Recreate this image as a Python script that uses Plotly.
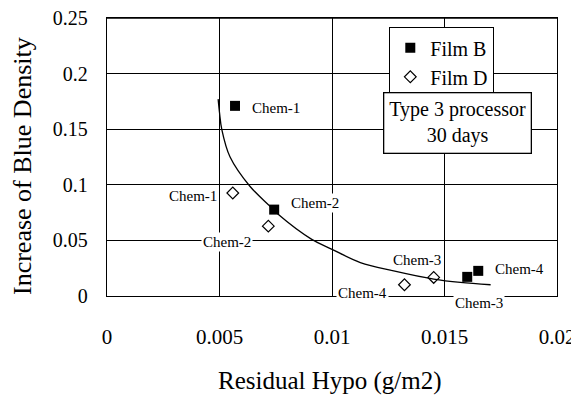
import plotly.graph_objects as go

# Data
chems = ["Chem-1", "Chem-2", "Chem-3", "Chem-4"]
film_b_x = [0.00569, 0.00743, 0.01601, 0.01650]
film_b_y = [0.171, 0.0777, 0.0172, 0.0226]
film_d_x = [0.00559, 0.00717, 0.01452, 0.01322]
film_d_y = [0.0926, 0.0628, 0.0167, 0.0101]

# Trend curve
curve_x = [0.00494, 0.00500, 0.00510, 0.00547, 0.00636, 0.00725, 0.00762,
           0.00910, 0.01000, 0.01126, 0.01274, 0.01452, 0.01571, 0.01705]
curve_y = [0.177, 0.165, 0.150, 0.125, 0.0985, 0.0806, 0.0732,
           0.0509, 0.0420, 0.0301, 0.0226, 0.0152, 0.0122, 0.0101]

x_ticks = [0, 0.005, 0.01, 0.015, 0.02]
y_ticks = [0, 0.05, 0.1, 0.15, 0.2, 0.25]

FONT = "Liberation Serif"

fig = go.Figure()
fig.add_trace(go.Scatter(x=curve_x, y=curve_y, mode="lines", line=dict(color="black", width=1.3, shape="spline", smoothing=1.0),
                         showlegend=False, hoverinfo="skip"))
fig.add_trace(go.Scatter(x=film_b_x, y=film_b_y, mode="markers", name="Film B",
                         marker=dict(symbol="square", size=10, color="black")))
fig.add_trace(go.Scatter(x=film_d_x, y=film_d_y, mode="markers", name="Film D",
                         marker=dict(symbol="diamond-open", size=9, color="black", line=dict(width=1.2))))

# label offsets (pixels) relative to each point
b_off = [(41, -2), (41, 7), (12, -26), (41, 2)]
d_off = [(-40, -3), (-41, -16), (-17, 17), (-42, -8)]

ann = []
for i, c in enumerate(chems):
    ann.append(dict(x=film_b_x[i], y=film_b_y[i], text=c, showarrow=False,
                    xshift=b_off[i][0], yshift=b_off[i][1], bgcolor="white", borderpad=1,
                    font=dict(family=FONT, size=15, color="black")))
    ann.append(dict(x=film_d_x[i], y=film_d_y[i], text=c, showarrow=False,
                    xshift=d_off[i][0], yshift=d_off[i][1], bgcolor="white", borderpad=1,
                    font=dict(family=FONT, size=15, color="black")))

ann.append(dict(xref="paper", yref="paper", x=(457 - 107) / 450, y=(295 - 121.5) / 278,
                text="Type 3 processor<br>30 days", showarrow=False, align="center",
                bgcolor="white", bordercolor="black", borderwidth=1.3, borderpad=5,
                font=dict(family=FONT, size=20, color="black"), xanchor="center", yanchor="middle"))
ann.append(dict(xref="paper", yref="paper", x=(22 - 107) / 450, y=(295 - 165) / 278,
                text="Increase of Blue Density", textangle=-90, showarrow=False,
                font=dict(family=FONT, size=26, color="black"), xanchor="center", yanchor="middle"))
ann.append(dict(xref="paper", yref="paper", x=(330 - 107) / 450, y=(295 - 380) / 278,
                text="Residual Hypo (g/m2)", showarrow=False,
                font=dict(family=FONT, size=25, color="black"), xanchor="center", yanchor="middle"))

# The page body has an 8px margin, so the figure is sized/offset to place the
# plot area at the reference pixels inside the 579x396 window.
fig.update_layout(
    width=571, height=388,
    margin=dict(l=99, r=22, t=10, b=100, autoexpand=False),
    paper_bgcolor="white", plot_bgcolor="white",
    font=dict(family=FONT, color="black"),
    annotations=ann,
    shapes=[dict(type="line", xref="paper", yref="paper", x0=0, x1=1, y0=1, y1=1,
                 line=dict(color="black", width=1.3), layer="above")],
    legend=dict(x=(389 - 107) / 450, y=(295 - 26) / 278, xanchor="left", yanchor="top",
                bgcolor="white", bordercolor="black", borderwidth=1.3,
                font=dict(family=FONT, size=20, color="black"), itemwidth=30,
                tracegroupgap=0),
)
fig.update_xaxes(range=[0, 0.02], tickvals=x_ticks, showgrid=True, gridcolor="black", gridwidth=1,
                 showline=True, linecolor="black", linewidth=1.3, mirror=True, zeroline=False,
                 ticks="", ticklabelstandoff=22, automargin=False, ticklabeloverflow="allow",
                 tickfont=dict(family=FONT, size=21, color="black"))
fig.update_yaxes(range=[0, 0.25], tickvals=y_ticks, showgrid=True, gridcolor="black", gridwidth=1,
                 showline=True, linecolor="black", linewidth=1.3, mirror=True, zeroline=False,
                 ticks="", ticklabelstandoff=14, automargin=False, ticklabeloverflow="allow",
                 tickfont=dict(family=FONT, size=20, color="black"))

fig.write_html("out.html")
